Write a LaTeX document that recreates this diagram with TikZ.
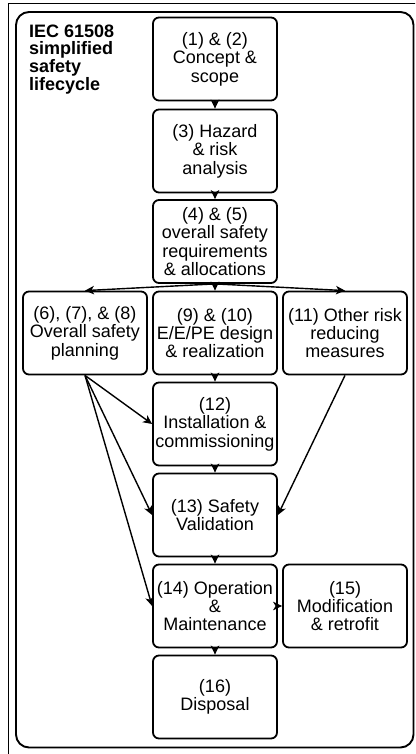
\documentclass[tikz,border=0pt]{standalone}
\usepackage{fontspec}
\setmainfont{Liberation Sans}
\usetikzlibrary{arrows.meta}
\begin{document}
\begin{tikzpicture}[x=1pt,y=-1pt,
  stagebox/.style={draw,line width=1.8pt,rounded corners=6pt,minimum width=124pt,minimum height=83pt,inner sep=0pt,align=center,font=\fontsize{18}{18.4}\selectfont},
  flow/.style={line width=1.4pt,-{Stealth[length=9pt,width=8.5pt,inset=2.5pt]}}]
\useasboundingbox (0,0) rectangle (415,754);
\clip (0,0) rectangle (415,754);
\fill[white] (0,0) rectangle (415,754);
\draw[line width=0.9pt] (8.5,3) rectangle (430,770);
\draw[line width=1.9pt,rounded corners=13pt] (16,12) rectangle (413.5,747.5);
\node[anchor=north west,inner sep=0pt,align=left,font=\bfseries\fontsize{18}{16.7}\selectfont] (title) at (29,25) {IEC 61508\\simplified\\safety\\lifecycle};
\node[stagebox] (b1) at (215,59) {(1) \& (2)\\Concept \&\\scope};
\node[stagebox] (b3) at (215,151) {(3) Hazard\\\& risk\\analysis};
\node[stagebox] (b45) at (215,241.5) {(4) \& (5)\\overall safety\\requirements\\\& allocations};
\node[stagebox] (b68) at (85,333) {(6), (7), \& (8)\\Overall safety\\planning};
\node[stagebox] (b910) at (215,333) {(9) \& (10)\\E/E/PE design\\\& realization};
\node[stagebox] (b11) at (345,333) {(11) Other risk\\reducing\\measures};
\node[stagebox] (b12) at (215,424) {(12)\\Installation \&\\commissioning};
\node[stagebox] (b13) at (215,515) {(13) Safety\\Validation};
\node[stagebox] (b14) at (215,606) {(14) Operation\\\&\\Maintenance};
\node[stagebox] (b15) at (345,606) {(15)\\Modification\\\& retrofit};
\node[stagebox] (b16) at (215,697) {(16)\\Disposal};
\draw[flow] (b1.south) -- (b3.north);
\draw[flow] (b3.south) -- (b45.north);
\draw[flow] (b45.south) -- (b68.north);
\draw[flow] (b45.south) -- (b910.north);
\draw[flow] (b45.south) -- (b11.north);
\draw[flow] (b910.south) -- (b12.north);
\draw[flow] (b68.south) -- (b12.west);
\draw[flow] (b68.south) -- (b13.west);
\draw[flow] (b68.south) -- (b14.west);
\draw[flow] (b11.south) -- (b13.east);
\draw[flow] (b12.south) -- (b13.north);
\draw[flow] (b13.south) -- (b14.north);
\draw[flow] (b14.east) -- (b15.west);
\draw[flow] (b14.south) -- (b16.north);
\end{tikzpicture}
\end{document}
